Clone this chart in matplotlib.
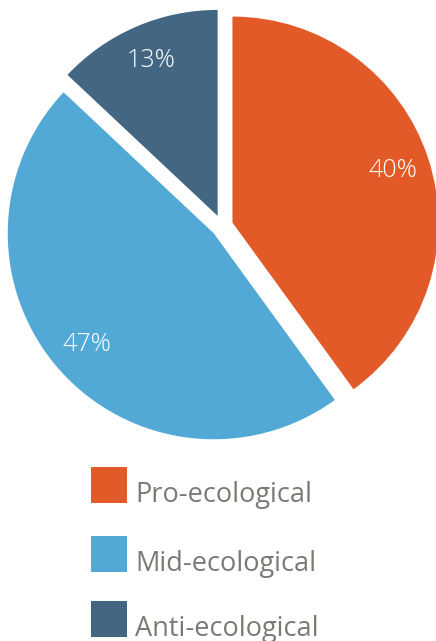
import matplotlib.pyplot as plt
from matplotlib.patches import Rectangle

categories = ["Pro-ecological", "Mid-ecological", "Anti-ecological"]
shares = [40, 47, 13]
colors = ["#E35A29", "#53A9D6", "#436682"]

W, H = 436, 641
fig = plt.figure(figsize=(W / 100, H / 100), dpi=100)
ax = fig.add_axes([0, 0, 1, 1])

radius = 206
gap = 11  # explode offset, data units (pixels here)
wedges, texts, autotexts = ax.pie(
    shares,
    colors=colors,
    startangle=90,
    counterclock=False,
    explode=[gap] * len(shares),
    center=(222, H - 226),
    radius=radius,
    autopct="%d%%",
    pctdistance=0.82,
    textprops=dict(color="white", fontsize=18, family="Open Sans", fontweight="light"),
    wedgeprops=dict(linewidth=0),
)
ax.set_xlim(0, W)
ax.set_ylim(0, H)
ax.set_aspect("auto")
ax.axis("off")

# legend drawn by hand, squares with labels
box_top = [467, 536, 601]
for name, c, top in zip(categories, colors, box_top):
    ax.add_patch(Rectangle((91, H - top - 36), 36, 36, color=c, linewidth=0))
    ax.text(135, H - top - 35, name, color="#7A7A75", fontsize=19.5,
            family="Open Sans", va="baseline", ha="left")

fig.savefig("out.png", dpi=100)
